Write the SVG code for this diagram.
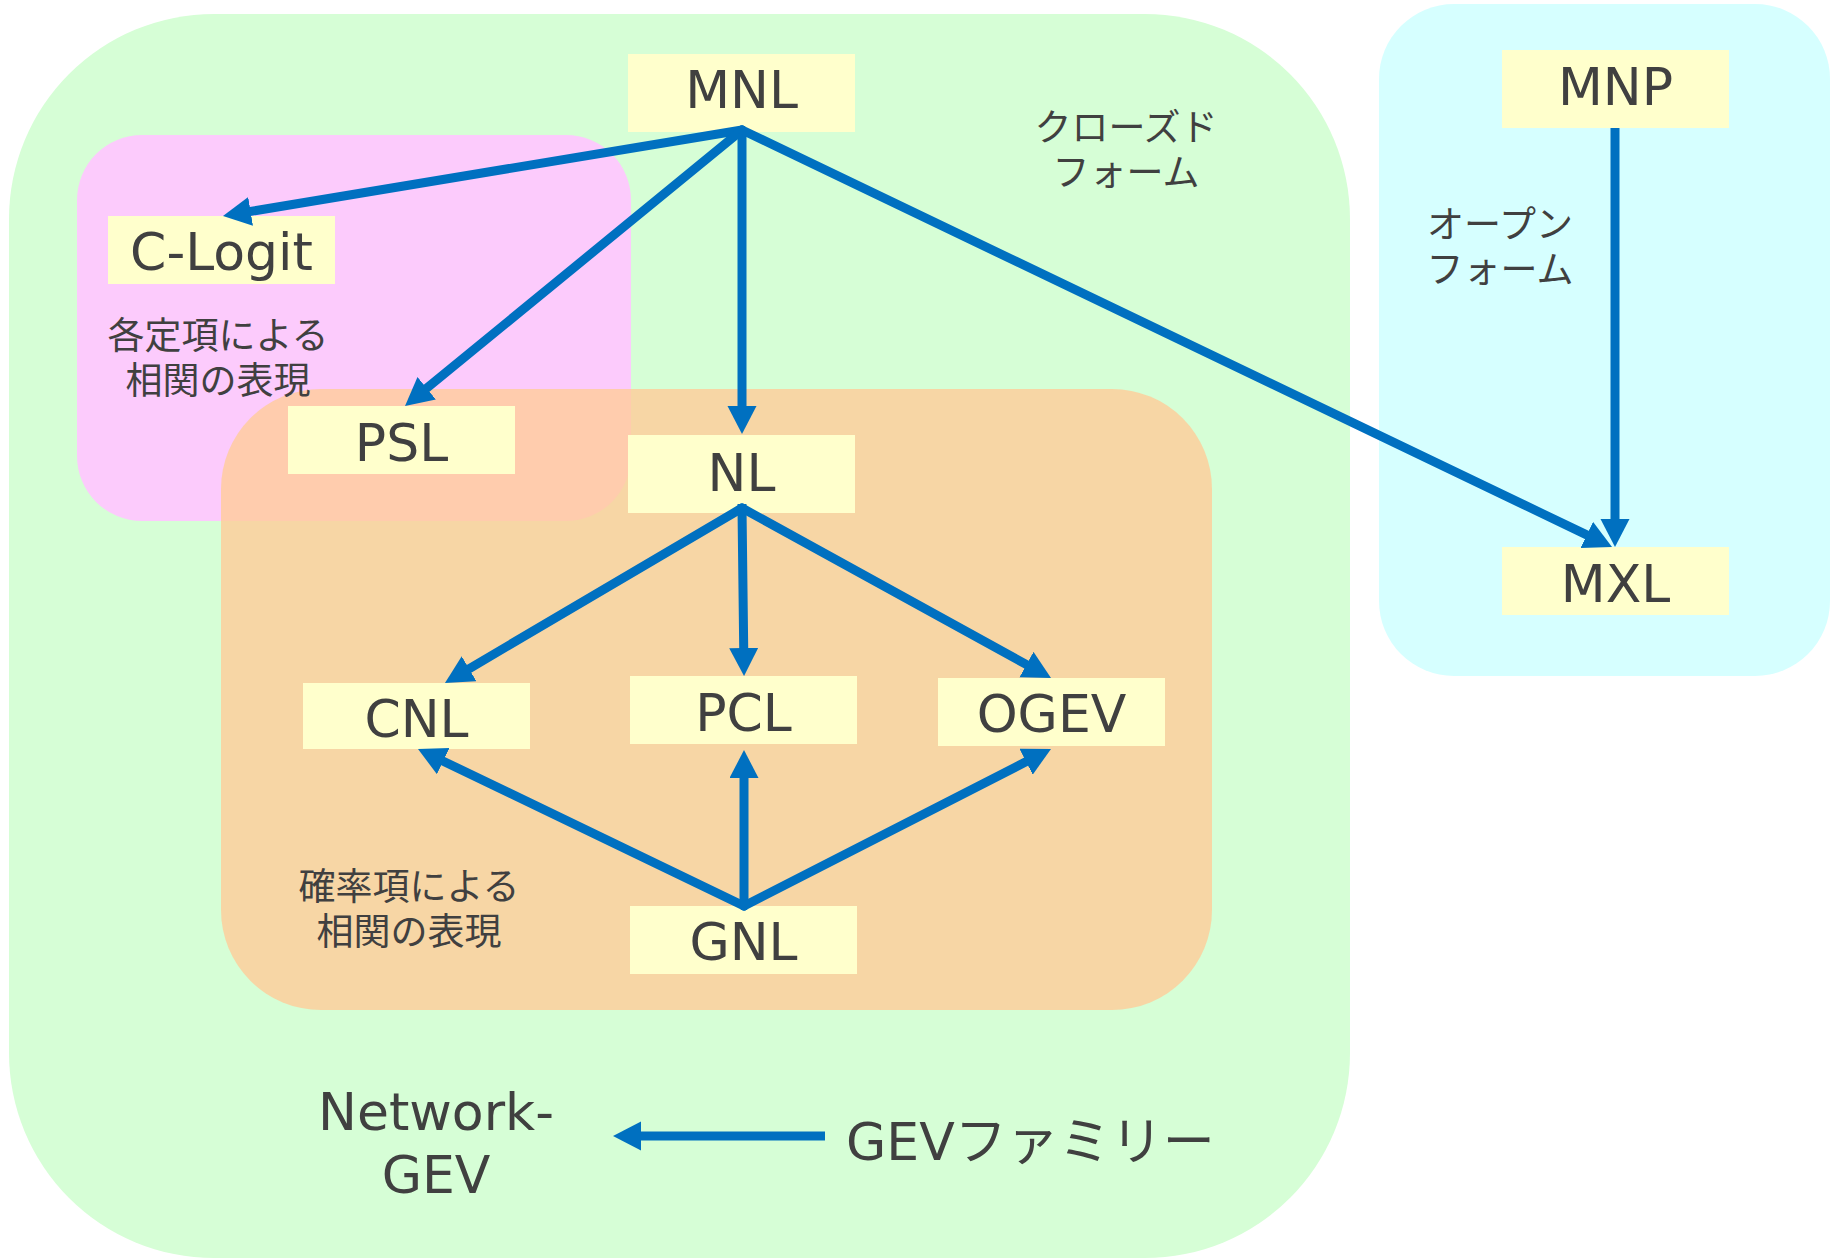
<svg xmlns="http://www.w3.org/2000/svg" width="1837" height="1259" viewBox="0 0 1837 1259">
<style>
.node rect{fill:#FFFFCC}
.lbl{font-family:"DejaVu Sans","Noto Sans CJK JP",sans-serif;font-size:52px;fill:#404040;text-anchor:middle}
.jp{font-family:"Noto Sans CJK JP","DejaVu Sans",sans-serif;font-size:37px;fill:#404040;text-anchor:middle}
.edge{stroke:#0070C0;stroke-width:9;fill:none;stroke-linecap:round}
</style>
<defs>
<marker id="ah" markerUnits="userSpaceOnUse" markerWidth="28" markerHeight="30" refX="8" refY="14.5" orient="auto">
<path d="M0,0 L28,14.5 L0,29 z" fill="#0070C0"/>
</marker>
</defs>
<rect width="1837" height="1259" fill="#FFFFFF"/>
<g id="groups">
<rect id="closed-form" x="9" y="14" width="1341" height="1244" rx="205" ry="205" fill="#D6FED6"/>
<rect id="open-form" x="1379" y="4" width="451" height="672" rx="75" ry="75" fill="#D6FFFF"/>
<rect id="constant-term" x="77" y="135" width="554" height="386" rx="65" ry="65" fill="#FCCBFC"/>
<rect id="probability-term" x="221" y="389" width="991" height="621" rx="100" ry="100" fill="#FFCC99" fill-opacity="0.8"/>
<text class="jp"><tspan x="1126" y="141">クローズド</tspan><tspan x="1126" y="186">フォーム</tspan></text>
<text class="jp"><tspan x="1500" y="238">オープン</tspan><tspan x="1500" y="283">フォーム</tspan></text>
<text class="jp"><tspan x="218" y="349">各定項による</tspan><tspan x="218" y="394">相関の表現</tspan></text>
<text class="jp"><tspan x="409" y="900">確率項による</tspan><tspan x="409" y="945">相関の表現</tspan></text>
<text class="lbl"><tspan x="436" y="1130">Network-</tspan><tspan x="436" y="1193">GEV</tspan></text>
<text class="lbl" x="846" y="1160" style="text-anchor:start">GEVファミリー</text>
</g>
<g id="MNL" class="node"><rect x="628" y="54" width="227" height="78"/><text class="lbl" x="741.5" y="108">MNL</text></g>
<g id="C-Logit" class="node"><rect x="108" y="216" width="227" height="68"/><text class="lbl" x="221.5" y="270">C-Logit</text></g>
<g id="PSL" class="node"><rect x="288" y="406" width="227" height="68"/><text class="lbl" x="401.5" y="461">PSL</text></g>
<g id="NL" class="node"><rect x="628" y="435" width="227" height="78"/><text class="lbl" x="741.5" y="491">NL</text></g>
<g id="CNL" class="node"><rect x="303" y="683" width="227" height="66"/><text class="lbl" x="416.5" y="737">CNL</text></g>
<g id="PCL" class="node"><rect x="630" y="676" width="227" height="68"/><text class="lbl" x="743.5" y="731">PCL</text></g>
<g id="OGEV" class="node"><rect x="938" y="678" width="227" height="68"/><text class="lbl" x="1051.5" y="732">OGEV</text></g>
<g id="GNL" class="node"><rect x="630" y="906" width="227" height="68"/><text class="lbl" x="743.5" y="960">GNL</text></g>
<g id="MNP" class="node"><rect x="1502" y="50" width="227" height="78"/><text class="lbl" x="1615.5" y="105">MNP</text></g>
<g id="MXL" class="node"><rect x="1502" y="547" width="227" height="68"/><text class="lbl" x="1615.5" y="602">MXL</text></g>
<g id="connectors">
<line class="edge" x1="742" y1="130" x2="242.7" y2="212.7" marker-end="url(#ah)"/>
<line class="edge" x1="742" y1="130" x2="420.5" y2="393.3" marker-end="url(#ah)"/>
<line class="edge" x1="742" y1="130" x2="742" y2="414" marker-end="url(#ah)"/>
<line class="edge" x1="742" y1="130" x2="1594" y2="538.4" marker-end="url(#ah)"/>
<line class="edge" x1="1615" y1="128" x2="1615" y2="527" marker-end="url(#ah)" style="stroke-linecap:butt"/>
<line class="edge" x1="742" y1="504" x2="742" y2="510" style="stroke-linecap:butt"/>
<line class="edge" x1="742" y1="508" x2="462.2" y2="672.8" marker-end="url(#ah)"/>
<line class="edge" x1="742" y1="508" x2="743.8" y2="656" marker-end="url(#ah)"/>
<line class="edge" x1="742" y1="508" x2="1033.5" y2="668.4" marker-end="url(#ah)"/>
<line class="edge" x1="744" y1="906" x2="436" y2="757.7" marker-end="url(#ah)"/>
<line class="edge" x1="744" y1="906" x2="744" y2="770" marker-end="url(#ah)"/>
<line class="edge" x1="744" y1="906" x2="1033.2" y2="758.1" marker-end="url(#ah)"/>
<line class="edge" x1="825" y1="1136" x2="633" y2="1136" marker-end="url(#ah)" style="stroke-linecap:butt"/>
</g>
</svg>
